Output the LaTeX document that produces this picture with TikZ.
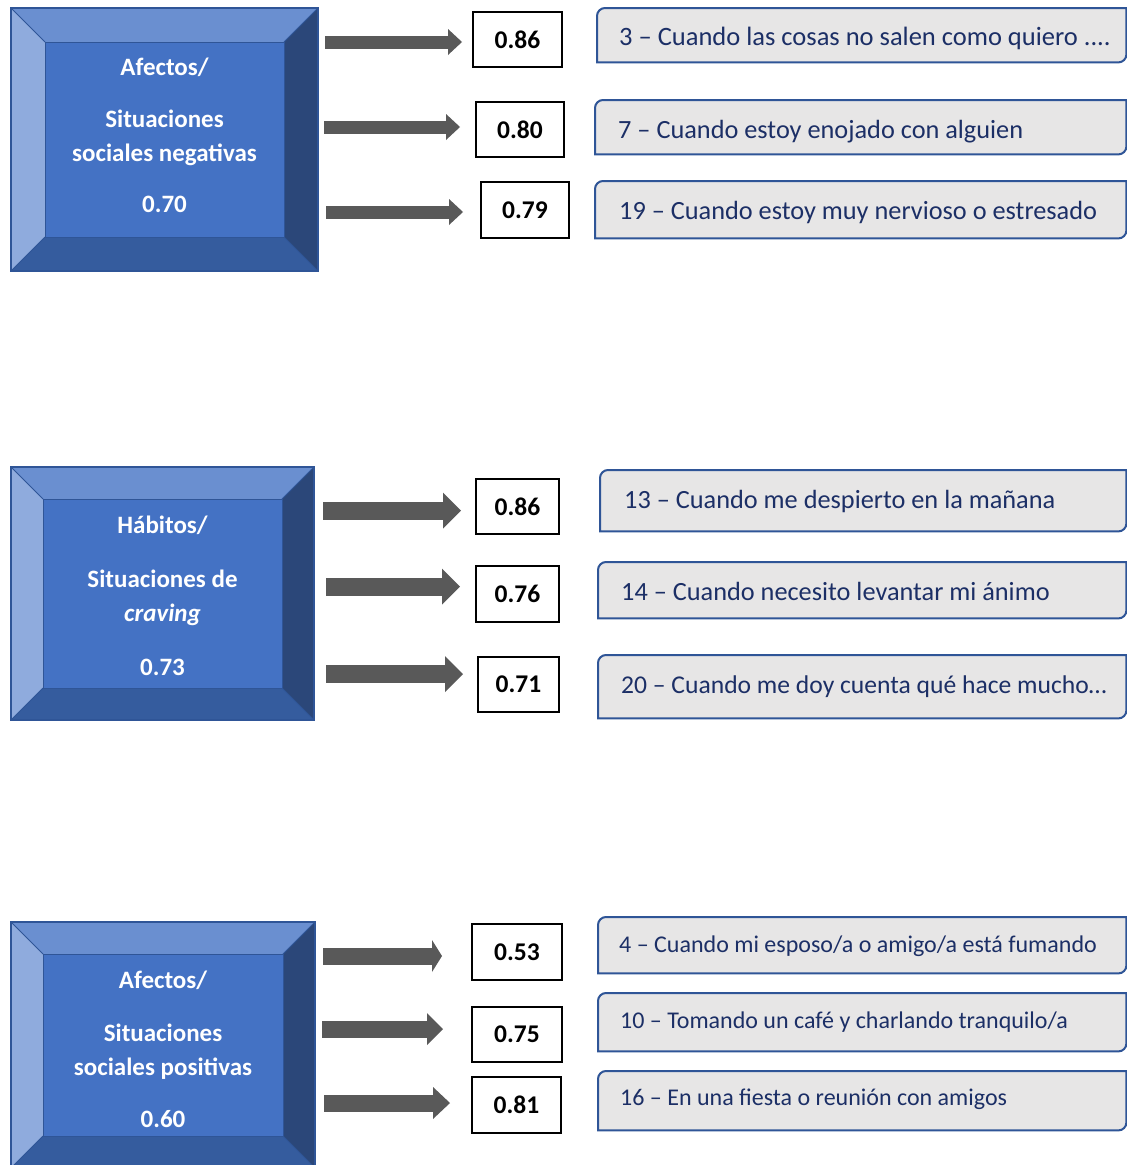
\documentclass[tikz,border=0pt]{standalone}
\usepackage{fontspec}
\setmainfont{Carlito}
\usetikzlibrary{arrows.meta,calc,backgrounds}
\definecolor{bmid}{HTML}{4472C4}
\definecolor{btop}{HTML}{6A8FD0}
\definecolor{bleft}{HTML}{8FABDD}
\definecolor{bright}{HTML}{2B4779}
\definecolor{bbot}{HTML}{355C9E}
\definecolor{bline}{HTML}{2F5597}
\definecolor{arrcol}{HTML}{595959}
\definecolor{tfill}{HTML}{E7E6E6}
\definecolor{tnavy}{HTML}{1C2F66}
\tikzset{
  bevtext/.style={text=white, align=center, font=\bfseries\fontsize{25}{34}\selectfont, inner sep=0pt},
  numbox/.style={draw=black, line width=1.4pt, fill=white, font=\bfseries\fontsize{25.5}{30}\selectfont, inner sep=0pt},
  tboxtext/.style={text=tnavy, inner sep=0pt},
  tboxline/.style={draw=bline, line width=2pt, fill=tfill},
  blockarrow/.style={draw=arrcol, line cap=butt}
}
% bevel box: name, x1, y1, x2, y2, d, text-y, text
\newcommand\bevelbox[8]{%
  \fill[btop] (#2,-#3) -- (#4,-#3) -- (#4-#6,-#3-#6) -- (#2+#6,-#3-#6) -- cycle;
  \fill[bleft] (#2,-#3) -- (#2+#6,-#3-#6) -- (#2+#6,-#5+#6) -- (#2,-#5) -- cycle;
  \fill[bright] (#4,-#3) -- (#4,-#5) -- (#4-#6,-#5+#6) -- (#4-#6,-#3-#6) -- cycle;
  \fill[bbot] (#2,-#5) -- (#4,-#5) -- (#4-#6,-#5+#6) -- (#2+#6,-#5+#6) -- cycle;
  \fill[bmid] (#2+#6,-#3-#6) rectangle (#4-#6,-#5+#6);
  \draw[bline, line width=1pt] (#2,-#3) -- (#2+#6,-#3-#6) (#4,-#3) -- (#4-#6,-#3-#6)
     (#2,-#5) -- (#2+#6,-#5+#6) (#4,-#5) -- (#4-#6,-#5+#6);
  \draw[bline, line width=1pt] (#2+#6,-#3-#6) rectangle (#4-#6,-#5+#6);
  \draw[bline, line width=1.5pt] (#2,-#3) rectangle (#4,-#5);
  \node[bevtext] (#1) at ({(#2+#4)/2},-#7) {#8};
}
% text box: name, x1, y1, x2, y2, text offset, text yshift, font size, text
\newcommand\tbox[9]{%
  \pgfmathsetmacro\tbW{#4-#2}\pgfmathsetmacro\tbH{#5-#3}%
  \node[anchor=north west, inner sep=0pt, minimum height=\tbH pt, minimum width=\tbW pt] (#1) at (#2,-#3) {};
  \path[tboxline] (#1.north east) -- ([xshift=8pt]#1.north west)
     arc[start angle=90,end angle=180,radius=8pt] -- (#1.south west)
     -- ([xshift=-8pt]#1.south east) arc[start angle=270,end angle=360,radius=8pt] -- cycle;
  \node[tboxtext, font=\fontsize{#8}{30}\selectfont, anchor=west] (#1l) at ([xshift=#6pt,yshift=#7pt]#1.west) {#9};
}
\begin{document}
\begin{tikzpicture}[x=1pt,y=1pt]
\fill[white] (0,0) rectangle (1127,-1165);
\useasboundingbox (0,0) rectangle (1127,-1165);

% ---------- block 1 ----------
\bevelbox{b1}{11}{8}{318}{271}{34}{135}{Afectos/\\[18pt]Situaciones\\sociales negativas\\[17pt]0.70}
\node[numbox, minimum width=89pt, minimum height=55pt] (n11) at (517.5,-39.5) {0.86};
\node[numbox, minimum width=88pt, minimum height=55pt] (n12) at (520,-129.5) {0.80};
\node[numbox, minimum width=88pt, minimum height=56pt] (n13) at (525,-210) {0.79};
\tbox{t11}{597}{8}{1126}{62}{22}{-3}{26.5}{3 – Cuando las cosas no salen como quiero ....}
\tbox{t12}{595}{100}{1126}{154}{23}{-4}{26.3}{7 – Cuando estoy enojado con alguien}
\tbox{t13}{595}{181}{1126}{238}{24}{-2.5}{26.3}{19 – Cuando estoy muy nervioso o estresado}
\coordinate (s11) at (325,-42);  \coordinate (e11) at (462,-42);
\coordinate (s12) at (324,-127); \coordinate (e12) at (460,-127);
\coordinate (s13) at (326,-212); \coordinate (e13) at (463,-212);
\foreach \i in {11,12,13}
  \draw[blockarrow, line width=13pt, -{Triangle[length=14pt,width=26pt,line width=0pt]}] (s\i) -- (e\i);

% ---------- block 2 ----------
\bevelbox{b2}{11}{467}{314}{720}{32}{596}{Hábitos/\\[20pt]Situaciones de\\\textit{craving}\\[20pt]0.73}
\node[numbox, minimum width=83pt, minimum height=55pt] (n21) at (517.5,-506.5) {0.86};
\node[numbox, minimum width=83pt, minimum height=56pt] (n22) at (517.5,-594) {0.76};
\node[numbox, minimum width=81pt, minimum height=55pt] (n23) at (518.5,-684.5) {0.71};
\tbox{t21}{600}{470}{1126}{531}{24}{-0.5}{26.3}{13 – Cuando me despierto en la mañana}
\tbox{t22}{598}{562}{1126}{618}{23}{-1}{26.3}{14 – Cuando necesito levantar mi ánimo}
\tbox{t23}{598}{655}{1126}{718}{23}{0}{25.6}{20 – Cuando me doy cuenta qué hace mucho…}
\coordinate (s21) at (323,-510.5); \coordinate (e21) at (461,-510.5);
\coordinate (s22) at (326,-586.5); \coordinate (e22) at (460,-586.5);
\coordinate (s23) at (326,-674);   \coordinate (e23) at (463,-674);
\foreach \i in {21,22,23}
  \draw[blockarrow, line width=18pt, -{Triangle[length=18pt,width=36pt,line width=0pt]}] (s\i) -- (e\i);

% ---------- block 3 ----------
\bevelbox{b3}{11}{922}{315}{1168}{32}{1049}{Afectos/\\[19pt]Situaciones\\sociales positivas\\[18pt]0.60}
\node[numbox, minimum width=90pt, minimum height=56pt] (n31) at (517,-952) {0.53};
\node[numbox, minimum width=90pt, minimum height=55pt] (n32) at (517,-1034.5) {0.75};
\node[numbox, minimum width=89pt, minimum height=56pt] (n33) at (516.5,-1105) {0.81};
\tbox{t31}{598}{917}{1126}{973}{21}{-1}{24}{4 – Cuando mi esposo/a o amigo/a está fumando}
\tbox{t32}{598}{993}{1126}{1051}{22}{0}{24}{10 – Tomando un café y charlando tranquilo/a}
\tbox{t33}{598}{1071}{1126}{1130}{22}{1}{24}{16 – En una fiesta o reunión con amigos}
\coordinate (s31) at (323,-956);  \coordinate (e31) at (442,-956);
\coordinate (s32) at (322,-1029); \coordinate (e32) at (443,-1029);
\coordinate (s33) at (324,-1103); \coordinate (e33) at (450,-1103);
\draw[blockarrow, line width=17pt, -{Triangle[length=10pt,width=32pt,line width=0pt]}] (s31) -- (e31);
\draw[blockarrow, line width=17pt, -{Triangle[length=16pt,width=32pt,line width=0pt]}] (s32) -- (e32);
\draw[blockarrow, line width=17pt, -{Triangle[length=17pt,width=32pt,line width=0pt]}] (s33) -- (e33);
\end{tikzpicture}
\end{document}
